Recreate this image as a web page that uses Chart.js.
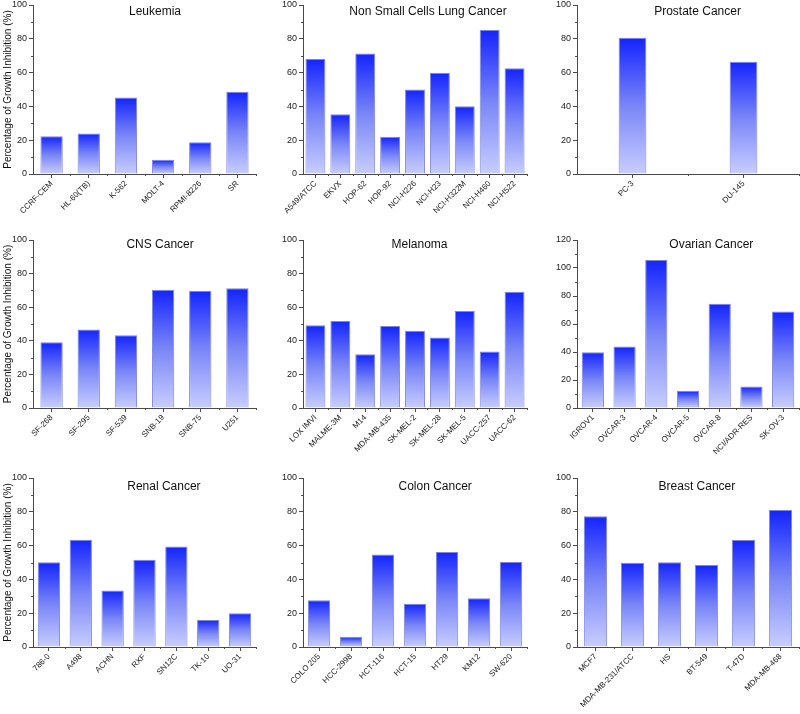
<!DOCTYPE html>
<html>
<head>
<meta charset="utf-8">
<script src="https://cdn.jsdelivr.net/npm/chart.js@4.4.1/dist/chart.umd.min.js"></script>
<style>
  body { margin: 0; background: #fff; width: 800px; height: 714px; position: relative; overflow: hidden; }
  canvas.panel { position: absolute; }
</style>
</head>
<body>
<script>
// values (percentage of growth inhibition)
const leukemiaLabels = ['CCRF-CEM', 'HL-60(TB)', 'K-562', 'MOLT-4', 'RPMI-8226', 'SR'];
const leukemiaValues = [22.3, 23.9, 45.3, 8.5, 18.8, 48.6];

const lungLabels = ['A549/ATCC', 'EKVX', 'HOP-62', 'HOP-92', 'NCI-H226', 'NCI-H23', 'NCI-H322M', 'NCI-H460', 'NCI-H522'];
const lungValues = [68.0, 35.4, 71.3, 22.1, 50.0, 59.9, 40.1, 85.2, 62.6];

const prostateLabels = ['PC-3', 'DU-145'];
const prostateValues = [80.6, 66.4];

const cnsLabels = ['SF-268', 'SF-295', 'SF-539', 'SNB-19', 'SNB-75', 'U251'];
const cnsValues = [39.1, 46.8, 43.3, 70.4, 69.8, 71.3];

const melanomaLabels = ['LOX IMVI', 'MALME-3M', 'M14', 'MDA-MB-435', 'SK-MEL-2', 'SK-MEL-28', 'SK-MEL-5', 'UACC-257', 'UACC-62'];
const melanomaValues = [49.2, 51.8, 32.0, 48.8, 46.0, 41.9, 57.7, 33.6, 69.2];

const ovarianLabels = ['IGROV1', 'OVCAR-3', 'OVCAR-4', 'OVCAR-5', 'OVCAR-8', 'NCI/ADR-RES', 'SK-OV-3'];
const ovarianValues = [39.8, 43.9, 105.8, 12.3, 74.5, 15.4, 69.0];

const renalLabels = ['786-0', 'A498', 'ACHN', 'RXF', 'SN12C', 'TK-10', 'UO-31'];
const renalValues = [50.1, 63.5, 33.5, 51.7, 59.4, 16.0, 19.9];

const colonLabels = ['COLO 205', 'HCC-2998', 'HCT-116', 'HCT-15', 'HT29', 'KM12', 'SW-620'];
const colonValues = [27.6, 6.1, 54.8, 25.6, 56.2, 28.8, 50.3];

const breastLabels = ['MCF7', 'MDA-MB-231/ATCC', 'HS', 'BT-549', 'T-47D', 'MDA-MB-468'];
const breastValues = [77.3, 49.9, 50.1, 48.5, 63.3, 81.1];

const panelTitles = ['Leukemia', 'Non Small Cells Lung Cancer', 'Prostate Cancer',
  'CNS Cancer', 'Melanoma', 'Ovarian Cancer',
  'Renal Cancer', 'Colon Cancer', 'Breast Cancer'];
const yMaxes = [100, 100, 100, 100, 100, 120, 100, 100, 100];
const yTitle = 'Percentage of Growth Inhibition (%)';

// layout of the 3x3 grid (pixels)
const colLeft = [0, 268, 532], colWidth = [268, 264, 268];
const axisX = [33, 303, 577], areaRight = [256, 527, 799];
const rowTop = [0, 235, 474], rowHeight = [235, 239, 240];
const areaTop = [5, 240, 478], areaBottom = [174, 408, 647];
const titleDy = [7, 5, 9];

const axisColor = '#4a4a4a';
Chart.defaults.font.family = '"Liberation Sans", Arial, sans-serif';

const panels = [
  { labels: leukemiaLabels, values: leukemiaValues, bar: 0.6, tx: 0.547 },
  { labels: lungLabels, values: lungValues, bar: 0.8, tx: 0.558 },
  { labels: prostateLabels, values: prostateValues, bar: 0.25, tx: 0.543 },
  { labels: cnsLabels, values: cnsValues, bar: 0.6, tx: 0.57 },
  { labels: melanomaLabels, values: melanomaValues, bar: 0.8, tx: 0.52 },
  { labels: ovarianLabels, values: ovarianValues, bar: 0.7, tx: 0.605 },
  { labels: renalLabels, values: renalValues, bar: 0.7, tx: 0.587 },
  { labels: colonLabels, values: colonValues, bar: 0.7, tx: 0.59 },
  { labels: breastLabels, values: breastValues, bar: 0.63, tx: 0.54 }
];

// each bar gets its own gradient, dark blue at the top, pale at the base
function barGradient(c) {
  const chart = c.chart;
  const y = chart.scales && chart.scales.y;
  if (!chart.chartArea || !y || c.raw == null) return '#6070f0';
  const top = y.getPixelForValue(c.raw), base = y.getPixelForValue(0);
  if (!isFinite(top) || !isFinite(base) || top === base) return '#6070f0';
  const g = chart.ctx.createLinearGradient(0, top, 0, base);
  g.addColorStop(0, '#1424ff');
  g.addColorStop(0.5, '#7a86f6');
  g.addColorStop(1, '#c8ceff');
  return g;
}

const panelTitle = {
  id: 'panelTitle',
  afterDraw(chart, args, opts) {
    const a = chart.chartArea, ctx = chart.ctx;
    ctx.save();
    ctx.font = '12px "Liberation Sans", Arial, sans-serif';
    ctx.fillStyle = '#111';
    ctx.textAlign = 'center';
    ctx.textBaseline = 'middle';
    ctx.fillText(opts.text, a.left + a.width * opts.pos, a.top + opts.dy);
    ctx.restore();
  }
};

const minorTicks = {
  id: 'minorTicks',
  afterDraw(chart) {
    const ctx = chart.ctx, x = chart.scales.x, y = chart.scales.y;
    ctx.save();
    ctx.strokeStyle = axisColor;
    ctx.lineWidth = 1;
    ctx.beginPath();
    for (let v = 10; v < y.max; v += 20) {
      const py = Math.round(y.getPixelForValue(v)) + 0.5;
      ctx.moveTo(y.right - 2, py);
      ctx.lineTo(y.right, py);
    }
    for (let i = 0; i < chart.data.labels.length; i++) {
      const px = Math.round(x.getPixelForValue(i + 0.5)) + 0.5;
      ctx.moveTo(px, x.top);
      ctx.lineTo(px, x.top + 2);
    }
    ctx.stroke();
    ctx.restore();
  }
};

panels.forEach(function (p, i) {
  const col = i % 3, row = Math.floor(i / 3);
  const cv = document.createElement('canvas');
  cv.className = 'panel';
  cv.width = colWidth[col];
  cv.height = rowHeight[row];
  cv.style.left = colLeft[col] + 'px';
  cv.style.top = rowTop[row] + 'px';
  cv.style.width = colWidth[col] + 'px';
  cv.style.height = rowHeight[row] + 'px';
  document.body.appendChild(cv);

  new Chart(cv, {
    type: 'bar',
    data: {
      labels: p.labels,
      datasets: [{
        data: p.values,
        backgroundColor: barGradient,
        borderColor: '#7f86dc',
        borderWidth: 1,
        barPercentage: p.bar,
        categoryPercentage: 1
      }]
    },
    options: {
      responsive: false,
      animation: false,
      events: [],
      layout: {
        padding: {
          top: areaTop[row] - rowTop[row],
          right: colLeft[col] + colWidth[col] - areaRight[col],
          left: 0,
          bottom: 0
        }
      },
      plugins: {
        legend: { display: false },
        tooltip: { enabled: false },
        panelTitle: { text: panelTitles[i], pos: p.tx, dy: titleDy[row] }
      },
      scales: {
        x: {
          grid: { drawOnChartArea: false, offset: false, tickLength: 4, color: axisColor },
          border: { color: axisColor },
          ticks: { autoSkip: false, minRotation: 45, maxRotation: 45, font: { size: 8 }, color: '#222', padding: 1 },
          afterFit: function (s) {
            s.height = rowTop[row] + rowHeight[row] - areaBottom[row];
            s.paddingLeft = 0;
            s.paddingRight = 0;
          }
        },
        y: {
          min: 0,
          max: yMaxes[i],
          ticks: { stepSize: 20, font: { size: 9 }, color: '#222', padding: 2 },
          grid: { drawOnChartArea: false, tickLength: 4, color: axisColor },
          border: { color: axisColor },
          title: {
            display: col === 0,
            text: yTitle,
            font: { size: 10 },
            color: '#111',
            padding: { top: 2, bottom: 0 }
          },
          afterFit: function (s) {
            s.width = axisX[col] - colLeft[col];
            s.paddingTop = 0;
            s.paddingBottom = 0;
          }
        }
      }
    },
    plugins: [panelTitle, minorTicks]
  });
});
</script>
</body>
</html>
